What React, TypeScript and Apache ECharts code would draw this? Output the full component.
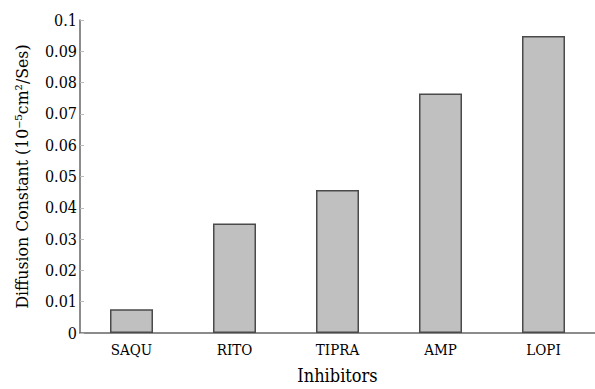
import React, { useEffect, useRef } from "react";
import * as echarts from "echarts";

const categories = ["SAQU", "RITO", "TIPRA", "AMP", "LOPI"];
const values = [0.0076, 0.035, 0.0457, 0.0765, 0.0949];
const yTicks = [0, 0.01, 0.02, 0.03, 0.04, 0.05, 0.06, 0.07, 0.08, 0.09, 0.1];

export default function App() {
  const ref = useRef<HTMLDivElement>(null);
  useEffect(() => {
    if (!ref.current) return;
    const chart = echarts.init(ref.current, undefined, { renderer: "svg" });
    const font = "DejaVu Serif Condensed";
    chart.setOption({
      animation: false,
      grid: { left: 80, right: -12.5, top: 20, bottom: 52.3 },
      xAxis: {
        type: "category",
        data: categories,
        name: "Inhibitors",
        nameLocation: "middle",
        nameGap: 33,
        nameTextStyle: { fontFamily: font, fontSize: 18, color: "#000" },
        axisLine: { lineStyle: { color: "#666", width: 1.5 } },
        axisTick: { inside: true, length: 4, lineStyle: { color: "#bbb" } },
        axisLabel: { fontFamily: font, fontSize: 15, color: "#000", margin: 9 },
      },
      yAxis: {
        type: "value",
        min: 0,
        max: 0.1,
        interval: 0.01,
        name: "Diffusion Constant (10\u207B\u2075cm\u00B2/Ses)",
        nameLocation: "middle",
        nameGap: 49,
        nameTextStyle: { fontFamily: font, fontSize: 17.5, color: "#000" },
        axisLine: { show: true, lineStyle: { color: "#666", width: 1.5 } },
        axisTick: { show: true, inside: true, length: 4, lineStyle: { color: "#bbb" } },
        splitLine: { show: false },
        axisLabel: {
          fontFamily: font,
          fontSize: 16,
          color: "#000",
          margin: 3,
          formatter: (v: number) => {
            const t = yTicks.find((x) => Math.abs(x - v) < 1e-9);
            return String(t !== undefined ? t : v);
          },
        },
      },
      series: [
        {
          type: "bar",
          data: values,
          barWidth: 43,
          itemStyle: { color: "#c0c0c0", borderColor: "#4a4a4a", borderWidth: 1.5 },
        },
      ],
    });
    return () => chart.dispose();
  }, []);
  return <div ref={ref} style={{ width: 595, height: 389, position: "absolute", left: 0, top: 0 }} />;
}
